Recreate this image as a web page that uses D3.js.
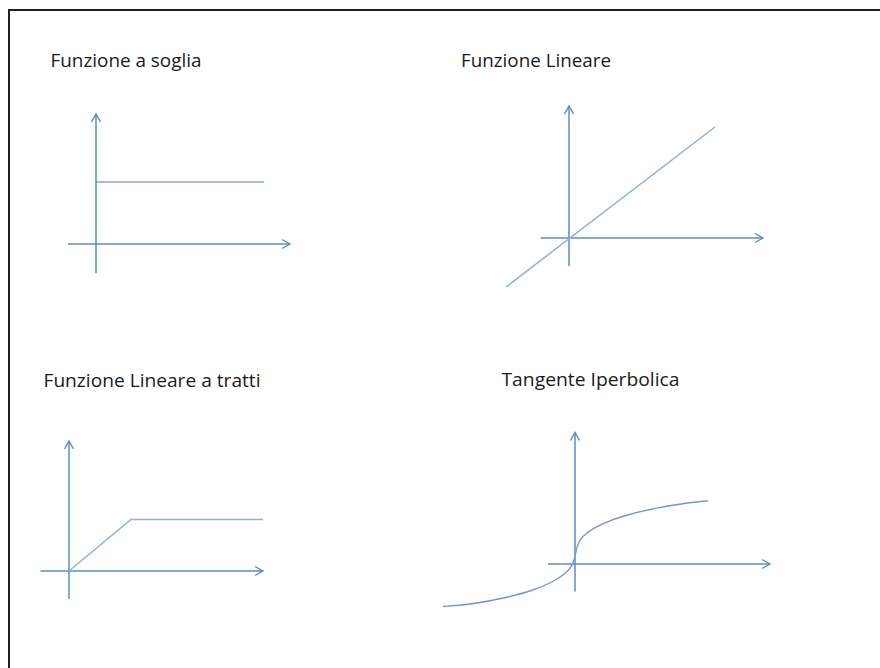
<!DOCTYPE html>
<html>
<head>
<meta charset="utf-8">
<script src="https://cdn.jsdelivr.net/npm/d3@7"></script>
<style>
  html, body { margin: 0; padding: 0; background: #fff; }
  svg { display: block; }
</style>
</head>
<body>
<svg id="chart" width="880" height="668"></svg>
<script>
// Activation functions: titles and curve samples (units: axes origin at 0,0)
const titles = ["Funzione a soglia", "Funzione Lineare", "Funzione Lineare a tratti", "Tangente Iperbolica"];

const sogliaX = [0, 16.8];
const sogliaY = [6.2, 6.2];

const lineareX = [-6.3, 14.6];
const lineareY = [-4.9, 11.1];

const trattiX = [0, 6.2, 19.4];
const trattiY = [0, 5.15, 5.15];

const tanhX = [-13.2, -13.2, -10.2, -6.8, -4.2, -2.2, -0.9, -0.25, 0, 0.15, 0.45, 1.1, 2.5, 4.8, 8.2, 11.5, 13.3, 13.3];
const tanhY = [-4.25, -4.25, -4.02, -3.35, -2.65, -1.8, -0.95, -0.15, 0.7, 1.6, 2.4, 3.1, 3.95, 4.85, 5.62, 6.17, 6.33, 6.33];

// Axis extents (x from..to, y from..to) for each panel
const axisX = [[-2.8, 19.4], [-2.85, 19.4], [-2.85, 19.4], [-2.7, 19.5]];
const axisY = [[-2.9, 13.0], [-2.8, 13.2], [-2.8, 13.0], [-2.75, 13.15]];

const curves = [
  { xs: sogliaX, ys: sogliaY, curve: d3.curveLinear },
  { xs: lineareX, ys: lineareY, curve: d3.curveLinear },
  { xs: trattiX, ys: trattiY, curve: d3.curveLinear },
  { xs: tanhX, ys: tanhY, curve: d3.curveBasis }
];

// Layout: axes origin in pixels, title anchor, title width
const panels = [
  { ox: 96,  oy: 244, tx: 50.5, ty: 67, tw: 151, line: "#4a7ebb", lw: 1.2 },
  { ox: 569, oy: 238, tx: 461,  ty: 67, tw: 150, line: "#8db0dc", lw: 1.5 },
  { ox: 69,  oy: 571, tx: 43.5, ty: 387, tw: 217, line: "#8db0dc", lw: 1.5 },
  { ox: 575, oy: 564, tx: 501.5, ty: 386, tw: 178, line: "#6f98cd", lw: 1.4 }
];

const PX = 10; // pixels per unit
const axisColor = "#5b8cc8";

const svg = d3.select("#chart");

// Frame
svg.append("rect")
  .attr("x", 9).attr("y", 10)
  .attr("width", 900).attr("height", 700)
  .attr("fill", "none")
  .attr("stroke", "#1f1f1f")
  .attr("stroke-width", 2);

// Open arrowhead for axes
svg.append("defs").append("marker")
  .attr("id", "arrow")
  .attr("markerUnits", "userSpaceOnUse")
  .attr("viewBox", "-10 -6 12 12")
  .attr("refX", 0).attr("refY", 0)
  .attr("markerWidth", 12).attr("markerHeight", 12)
  .attr("orient", "auto")
  .append("path")
  .attr("d", "M-8,-4.5L0,0L-8,4.5")
  .attr("fill", "none")
  .attr("stroke", axisColor)
  .attr("stroke-width", 1.4);

panels.forEach((p, i) => {
  const x = d3.scaleLinear().domain([0, 1]).range([p.ox, p.ox + PX]);
  const y = d3.scaleLinear().domain([0, 1]).range([p.oy, p.oy - PX]);
  const g = svg.append("g");

  // Title
  g.append("text")
    .attr("x", p.tx).attr("y", p.ty)
    .attr("font-family", "'Open Sans', Lato, sans-serif")
    .attr("font-size", 17.5)
    .attr("fill", "#1a1a1a")
    .attr("textLength", p.tw)
    .attr("lengthAdjust", "spacingAndGlyphs")
    .text(titles[i]);

  // Axes
  g.append("line")
    .attr("x1", x(axisX[i][0])).attr("y1", y(0))
    .attr("x2", x(axisX[i][1])).attr("y2", y(0))
    .attr("stroke", axisColor).attr("stroke-width", 1.5)
    .attr("marker-end", "url(#arrow)");
  g.append("line")
    .attr("x1", x(0)).attr("y1", y(axisY[i][0]))
    .attr("x2", x(0)).attr("y2", y(axisY[i][1]))
    .attr("stroke", axisColor).attr("stroke-width", 1.5)
    .attr("marker-end", "url(#arrow)");

  // Function curve
  const c = curves[i];
  const pts = c.xs.map((v, k) => [v, c.ys[k]]);
  const line = d3.line().x(d => x(d[0])).y(d => y(d[1])).curve(c.curve);
  g.append("path")
    .attr("d", line(pts))
    .attr("fill", "none")
    .attr("stroke", p.line)
    .attr("stroke-width", p.lw);
});
</script>
</body>
</html>
